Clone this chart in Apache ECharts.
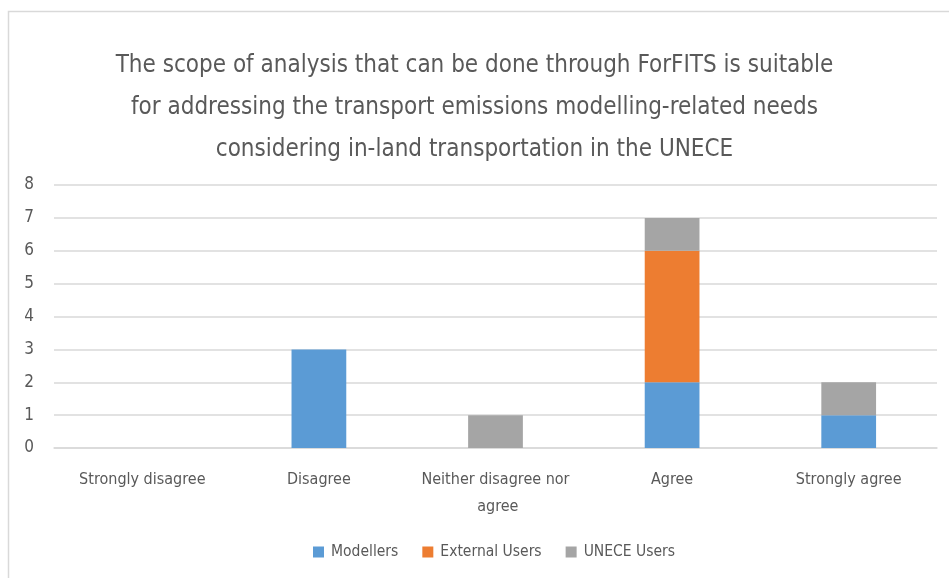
<!DOCTYPE html>
<html>
<head>
<meta charset="utf-8">
<script src="https://cdn.jsdelivr.net/npm/echarts@6/dist/echarts.min.js"></script>
<style>
  html, body { margin: 0; padding: 0; background: #fff; }
  #chart { width: 949px; height: 578px; }
</style>
</head>
<body>
<div id="chart"></div>
<script>
var categories = ['Strongly disagree', 'Disagree', 'Neither disagree nor agree', 'Agree', 'Strongly agree']
var modellers = [0, 3, 0, 2, 1]
var externalUsers = [0, 0, 0, 4, 0]
var uneceUsers = [0, 0, 1, 1, 1]
var yTicks = [0, 1, 2, 3, 4, 5, 6, 7, 8]

var font = '"Liberation Sans Narrow", "DejaVu Sans Condensed", sans-serif'
var textColor = '#595959'

var chart = echarts.init(document.getElementById('chart'))

function barSeries (name, data, color) {
    return {
        name: name,
        type: 'bar',
        stack: 'total',
        barWidth: '31%',
        itemStyle: { color: color },
        data: data
    }
}

chart.setOption({
    animation: false,
    textStyle: { fontFamily: font },
    graphic: [{
        type: 'rect',
        shape: { x: 8.5, y: 11.5, width: 1000, height: 1000 },
        style: { fill: 'none', stroke: '#d9d9d9', lineWidth: 1.5 },
        silent: true
    }],
    title: {
        text: 'The scope of analysis that can be done through ForFITS is suitable\nfor addressing the transport emissions modelling-related needs\nconsidering in-land transportation in the UNECE',
        left: 'center',
        top: 40,
        textStyle: {
            fontFamily: font,
            fontSize: 24,
            fontWeight: 'normal',
            color: textColor,
            lineHeight: 42
        }
    },
    legend: {
        top: 539,
        left: 308,
        itemWidth: 11,
        itemHeight: 11,
        itemGap: 24,
        icon: 'rect',
        textStyle: { fontFamily: font, fontSize: 15.5, color: textColor, padding: [0, 0, 0, 2] }
    },
    grid: { left: 54, right: 12, top: 185, bottom: 130 },
    xAxis: {
        type: 'category',
        data: categories,
        axisLine: { lineStyle: { color: '#d9d9d9', width: 1.5 } },
        axisTick: { show: false },
        axisLabel: {
            interval: 0,
            margin: 18,
            fontFamily: font,
            fontSize: 16,
            color: textColor,
            lineHeight: 27,
            width: 150,
            overflow: 'break'
        }
    },
    yAxis: {
        type: 'value',
        min: yTicks[0],
        max: yTicks[yTicks.length - 1],
        interval: 1,
        axisLine: { show: false },
        axisTick: { show: false },
        splitLine: { lineStyle: { color: '#d9d9d9', width: 1.5 } },
        axisLabel: {
            margin: 20,
            fontFamily: font,
            fontSize: 17,
            color: textColor
        }
    },
    series: [
        barSeries('Modellers', modellers, '#5b9bd5'),
        barSeries('External Users', externalUsers, '#ed7d31'),
        barSeries('UNECE Users', uneceUsers, '#a5a5a5')
    ]
})
</script>
</body>
</html>
